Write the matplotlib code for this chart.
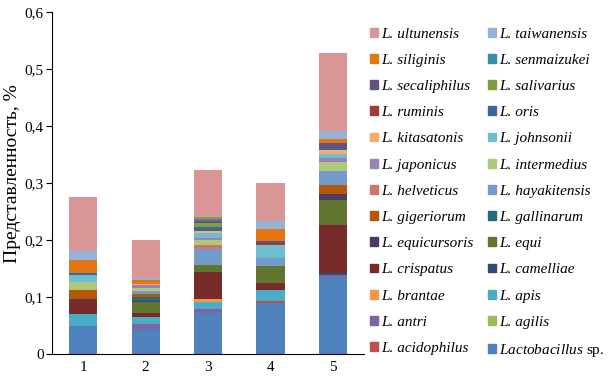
import numpy as np
import matplotlib
matplotlib.use('Agg')
import matplotlib.pyplot as plt
from matplotlib.patches import Patch
from matplotlib.ticker import FuncFormatter

plt.rcParams['font.family'] = 'Liberation Serif'
plt.rcParams['mathtext.fontset'] = 'custom'
plt.rcParams['mathtext.it'] = 'Liberation Serif:italic'
plt.rcParams['mathtext.rm'] = 'Liberation Serif'

# виды в порядке снизу вверх
species = ['Lactobacillus', 'acidophilus', 'agilis', 'antri', 'apis', 'brantae',
           'camelliae', 'crispatus', 'equi', 'equicursoris', 'gallinarum',
           'gigeriorum', 'hayakitensis', 'helveticus', 'intermedius', 'japonicus',
           'johnsonii', 'kitasatonis', 'oris', 'ruminis', 'salivarius',
           'secaliphilus', 'senmaizukei', 'siliginis', 'taiwanensis', 'ultunensis']

samples = ['1', '2', '3', '4', '5']

# доли (%) по образцам, в порядке species
sample1 = [0.050, 0, 0, 0, 0.020, 0, 0, 0.025, 0, 0.002, 0, 0.015, 0, 0, 0.014,
           0, 0.013, 0, 0.004, 0, 0, 0, 0, 0.023, 0.016, 0.094]
sample2 = [0.044, 0, 0, 0.009, 0.012, 0, 0, 0.007, 0.020, 0.002, 0.006, 0.006,
           0.005, 0, 0.006, 0.004, 0, 0.003, 0, 0, 0, 0, 0, 0.007, 0.002, 0.067]
sample3 = [0.072, 0, 0, 0.007, 0.013, 0.005, 0, 0.047, 0.012, 0, 0, 0, 0.028,
           0.008, 0.008, 0.004, 0.009, 0.004, 0.007, 0, 0.007, 0.003, 0.003,
           0.004, 0.003, 0.080]
sample4 = [0.090, 0.003, 0, 0, 0.020, 0, 0, 0.012, 0.029, 0, 0, 0, 0.015, 0, 0,
           0, 0.022, 0, 0, 0.005, 0, 0.003, 0, 0.020, 0.015, 0.066]
sample5 = [0.135, 0, 0, 0.0045, 0, 0, 0.0035, 0.083, 0.045, 0.010, 0, 0.016,
           0.024, 0, 0.016, 0.007, 0.0075, 0.006, 0.004, 0, 0, 0.009, 0, 0.007,
           0.015, 0.136]

colors = ['#4F81BD', '#C0504D', '#9BBB59', '#8064A2', '#4BACC6', '#F79646',
          '#2C4D75', '#772C2A', '#5F7530', '#4D3B62', '#276A7C', '#B65708',
          '#729ACA', '#CD7371', '#AFC97A', '#9983B5', '#6FBDD1', '#F9AB6B',
          '#3A679C', '#9F3B38', '#7E9D40', '#664F83', '#358EA6', '#E47612',
          '#95B3D7', '#D99694']

data = np.array([sample1, sample2, sample3, sample4, sample5]).T

fig = plt.figure(figsize=(6.09, 3.78), dpi=100)
ax = fig.add_axes([0.0854, 0.0627, 0.5126, 0.905])

x = np.arange(len(samples))
bottom = np.zeros(len(samples))
handles = []
labels = []
for i, sp in enumerate(species):
    ax.bar(x, data[i], 0.45, bottom=bottom, color=colors[i], linewidth=0)
    bottom += data[i]
    handles.append(Patch(color=colors[i]))
    if sp == 'Lactobacillus':
        labels.append(r'Lactobacillus $\mathrm{sp.}$')
    else:
        labels.append('L. ' + sp)

ax.set_xlim(-0.5, 4.5)
ax.set_ylim(0, 0.6)
ax.set_xticks(x)
ax.set_xticklabels(samples)
ax.set_yticks(np.arange(0, 0.61, 0.1))
ax.yaxis.set_major_formatter(FuncFormatter(
    lambda v, p: '0' if abs(v) < 1e-9 else f'{v:.1f}'.replace('.', ',')))
ax.tick_params(axis='x', length=0, labelsize=11, pad=5)
ax.tick_params(axis='y', length=4, labelsize=11, pad=2)
ax.spines['top'].set_visible(False)
ax.spines['right'].set_visible(False)
ax.set_ylabel('Представленность, %', fontsize=14)
ax.yaxis.set_label_coords(-0.1, 0.528)

# легенда: обратный порядок, заполнение по строкам в 2 столбца
rev_h = handles[::-1]
rev_l = labels[::-1]
leg_opts = dict(loc='upper left', frameon=False,
                prop={'size': 11, 'style': 'italic'},
                handlelength=0.5, handleheight=0.5, handletextpad=0.25,
                labelspacing=0.864, borderpad=0, borderaxespad=0)
fig.legend(rev_h[0::2], rev_l[0::2], bbox_to_anchor=(370 / 609, 0.927),
           **leg_opts)
fig.legend(rev_h[1::2], rev_l[1::2], bbox_to_anchor=(488 / 609, 0.927),
           **leg_opts)

fig.savefig('out.png', dpi=100)
